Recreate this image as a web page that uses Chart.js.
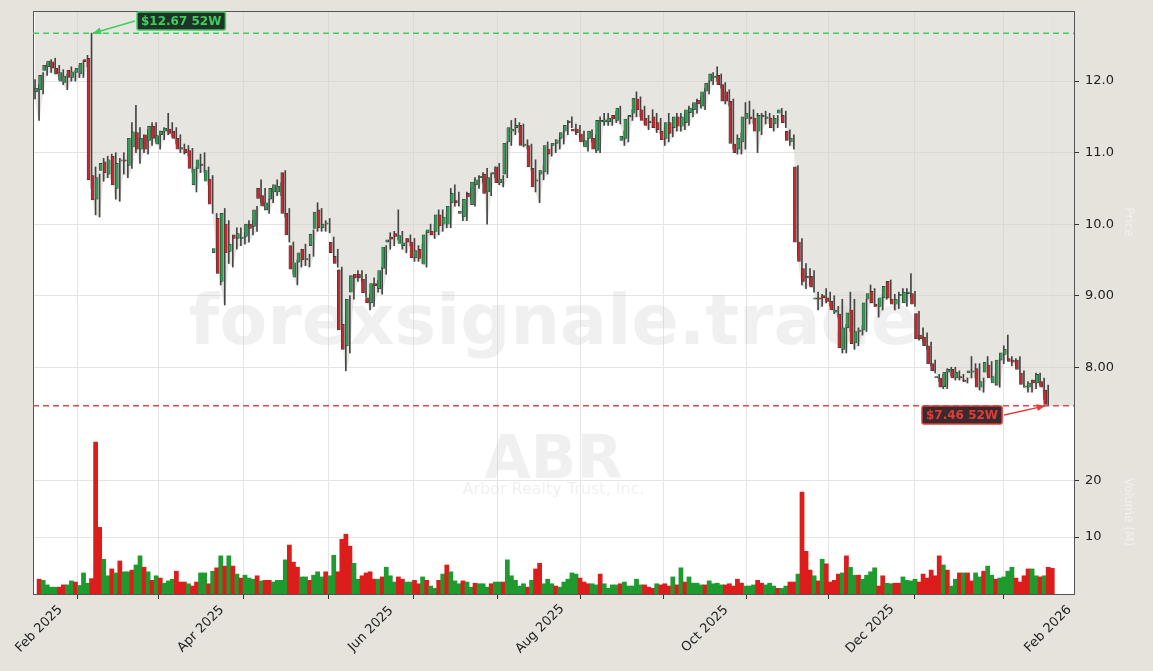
<!DOCTYPE html>
<html>
<head>
<meta charset="utf-8">
<script src="https://cdn.jsdelivr.net/npm/chart.js@4.4.1/dist/chart.umd.min.js"></script>
<style>
  html, body { margin: 0; padding: 0; background: #e6e3dd; }
  #wrap { width: 1153px; height: 671px; }
</style>
</head>
<body>
<div id="wrap"><canvas id="chart" width="1153" height="671"></canvas></div>
<script>
// ABR daily candles, Jan 31 2025 .. Feb 2026
const opens = [11.93,11.85,11.88,12.15,12.20,12.27,12.18,12.00,11.98,12.15,12.05,12.12,12.10,12.30,12.32,10.68,10.35,10.75,10.87,10.70,
10.95,10.50,10.88,10.88,10.82,11.08,11.28,11.05,11.25,11.17,11.37,11.12,11.25,11.30,11.33,11.30,11.20,11.05,11.05,11.03,
10.55,10.78,10.82,10.60,10.63,9.60,10.08,9.20,10.00,9.62,9.85,9.80,9.80,9.83,10.00,9.97,10.50,10.40,10.20,10.35,
10.45,10.45,10.72,10.15,9.70,9.26,9.47,9.65,9.50,9.70,9.94,10.20,9.95,10.00,9.75,9.55,9.36,8.60,8.30,9.05,
9.30,9.30,9.23,8.97,8.90,9.17,9.10,9.38,9.75,9.82,9.87,9.73,9.70,9.80,9.75,9.53,9.65,9.44,9.88,9.90,
9.90,10.13,10.00,10.00,10.30,10.33,10.15,10.10,10.43,10.27,10.55,10.65,10.70,10.45,10.70,10.80,10.58,10.70,11.15,11.30,
11.35,11.38,11.10,11.10,10.78,10.60,10.70,10.73,11.05,11.10,11.13,11.20,11.30,11.42,11.33,11.33,11.26,11.08,11.20,11.20,
11.03,11.43,11.43,11.43,11.52,11.45,11.17,11.20,11.50,11.55,11.75,11.60,11.48,11.42,11.50,11.42,11.30,11.20,11.42,11.35,
11.50,11.37,11.42,11.56,11.60,11.73,11.65,11.86,12.00,12.05,12.08,11.95,11.85,11.72,11.12,11.05,11.15,11.48,11.50,11.48,
11.30,11.50,11.48,11.48,11.40,11.55,11.52,11.30,11.15,10.80,9.75,9.38,9.25,9.27,8.95,8.97,9.00,8.97,8.92,8.77,
8.74,8.25,8.55,8.80,8.34,8.50,8.52,8.95,9.06,8.88,8.85,8.97,9.20,8.95,8.88,9.00,8.90,9.03,9.03,8.75,
8.45,8.42,8.30,8.05,7.85,7.85,7.73,7.93,7.97,7.85,7.85,7.82,7.92,7.93,7.98,7.72,7.93,8.03,7.78,7.75,
8.10,8.18,8.12,8.10,8.10,7.92,7.72,7.72,7.82,7.78,7.80,7.68];
const highs = [12.02,11.95,12.12,12.25,12.30,12.32,12.22,12.16,12.10,12.20,12.15,12.22,12.28,12.36,12.67,10.80,10.70,10.92,10.95,10.98,
11.00,10.92,11.00,10.95,11.42,11.66,11.35,11.25,11.32,11.42,11.42,11.30,11.35,11.55,11.42,11.35,11.25,11.12,11.10,11.06,
10.80,10.98,11.00,10.80,10.68,10.15,10.15,10.22,10.05,9.80,9.95,9.95,9.88,10.05,10.05,10.25,10.62,10.50,10.35,10.55,
10.62,10.58,10.75,10.22,9.75,9.50,9.65,9.72,9.58,9.92,10.30,10.22,10.05,10.08,9.82,9.65,9.40,8.80,9.00,9.30,
9.35,9.35,9.30,9.02,9.25,9.22,9.40,9.70,9.88,9.90,10.20,9.90,9.80,9.85,9.80,9.70,9.72,9.90,10.00,10.00,
10.20,10.20,10.15,10.50,10.55,10.45,10.25,10.45,10.50,10.65,10.68,10.72,10.78,10.70,10.80,10.85,10.68,11.15,11.45,11.48,
11.42,11.40,11.18,11.12,10.90,10.75,10.82,11.15,11.12,11.18,11.25,11.30,11.45,11.50,11.40,11.38,11.30,11.20,11.32,11.25,
11.50,11.55,11.55,11.52,11.58,11.65,11.30,11.50,11.60,11.85,11.78,11.65,11.52,11.60,11.55,11.48,11.35,11.55,11.48,11.55,
11.55,11.55,11.65,11.68,11.75,11.78,11.90,12.00,12.12,12.20,12.10,11.98,11.88,11.75,11.25,11.28,11.70,11.72,11.60,11.55,
11.55,11.58,11.55,11.52,11.52,11.62,11.58,11.32,11.25,10.82,9.80,9.45,9.38,9.35,9.05,9.02,9.10,9.05,9.00,8.85,
8.95,8.60,9.05,8.95,8.55,8.58,8.95,9.15,9.10,8.95,9.02,9.20,9.22,9.02,9.05,9.10,9.10,9.31,9.06,8.78,
8.55,8.48,8.35,8.10,7.90,7.90,7.98,8.00,8.00,7.95,7.90,7.85,8.15,8.05,8.05,7.85,8.15,8.08,7.90,8.12,
8.30,8.45,8.15,8.12,8.15,7.95,7.80,7.82,7.92,7.92,7.85,7.75];
const lows = [11.75,11.45,11.82,12.08,12.12,12.10,12.02,11.95,11.88,12.00,12.00,12.05,12.05,12.20,10.50,10.13,10.10,10.60,10.65,10.62,
10.35,10.32,10.70,10.65,10.78,11.00,10.85,11.00,10.98,11.10,11.15,11.05,11.18,11.25,11.22,11.12,11.00,10.98,10.95,10.72,
10.45,10.72,10.72,10.55,10.15,9.50,9.15,8.87,9.45,9.40,9.65,9.70,9.72,9.75,9.85,9.90,10.30,10.20,10.15,10.30,
10.40,10.40,10.10,9.75,9.30,9.15,9.40,9.42,9.40,9.55,9.90,9.90,9.90,9.88,9.50,9.40,8.50,7.95,8.20,8.95,
9.20,9.20,8.98,8.80,8.85,9.05,9.02,9.30,9.65,9.70,9.78,9.65,9.60,9.70,9.48,9.48,9.45,9.40,9.85,9.80,
9.85,9.90,9.95,9.95,10.25,10.25,10.05,10.05,10.35,10.25,10.50,10.58,10.00,10.40,10.65,10.55,10.52,10.65,11.10,11.25,
11.28,11.08,11.05,10.75,10.45,10.30,10.62,10.70,10.95,11.00,11.05,11.12,11.25,11.35,11.25,11.20,11.10,11.02,11.15,11.00,
11.00,11.38,11.38,11.38,11.42,11.40,11.10,11.15,11.45,11.50,11.50,11.40,11.32,11.35,11.28,11.25,11.10,11.15,11.22,11.30,
11.30,11.32,11.38,11.50,11.55,11.62,11.60,11.82,11.95,12.00,11.90,11.68,11.65,11.05,10.98,10.98,11.05,11.40,11.40,11.00,
11.25,11.40,11.40,11.30,11.35,11.50,11.35,11.10,11.05,9.55,9.15,9.10,9.15,9.05,8.80,8.85,8.90,8.85,8.75,8.70,
8.20,8.20,8.50,8.25,8.30,8.45,8.50,8.90,8.85,8.70,8.80,8.95,8.92,8.80,8.82,8.92,8.85,8.98,8.85,8.38,
8.35,8.25,8.02,7.92,7.80,7.70,7.70,7.88,7.82,7.82,7.80,7.78,7.85,7.85,7.68,7.65,7.90,7.80,7.75,7.72,
8.05,8.12,8.02,8.02,7.92,7.72,7.65,7.65,7.70,7.75,7.55,7.46];
const closes = [11.85,11.90,12.08,12.22,12.28,12.18,12.10,12.12,12.07,12.05,12.13,12.18,12.25,12.27,10.62,10.34,10.65,10.85,10.72,10.90,
10.55,10.85,10.90,10.87,11.20,11.29,11.05,11.20,11.05,11.37,11.20,11.24,11.30,11.34,11.27,11.20,11.05,11.05,11.00,10.78,
10.77,10.90,10.80,10.75,10.28,9.66,9.31,10.15,9.60,9.72,9.80,9.87,9.80,10.00,9.94,10.20,10.36,10.25,10.30,10.50,
10.55,10.53,10.15,9.85,9.37,9.46,9.60,9.50,9.50,9.86,10.17,9.95,10.00,10.00,9.60,9.45,8.52,8.25,8.95,9.28,
9.25,9.25,9.04,8.90,9.17,9.14,9.35,9.68,9.78,9.79,9.83,9.84,9.74,9.75,9.53,9.63,9.52,9.85,9.92,9.85,
10.13,9.98,10.10,10.25,10.43,10.30,10.18,10.35,10.38,10.59,10.62,10.65,10.43,10.65,10.72,10.58,10.63,11.13,11.35,11.33,
11.38,11.10,11.10,10.80,10.52,10.60,10.75,11.10,10.98,11.13,11.18,11.28,11.38,11.42,11.30,11.28,11.15,11.17,11.30,11.05,
11.45,11.43,11.46,11.48,11.47,11.62,11.23,11.47,11.50,11.76,11.60,11.45,11.38,11.42,11.35,11.32,11.18,11.42,11.27,11.50,
11.37,11.50,11.60,11.62,11.70,11.68,11.85,11.97,12.10,12.05,11.95,11.72,11.72,11.13,11.00,11.20,11.50,11.55,11.47,11.30,
11.52,11.50,11.48,11.35,11.48,11.60,11.42,11.17,11.20,9.75,9.48,9.20,9.25,9.12,8.97,8.95,8.97,8.92,8.80,8.80,
8.27,8.55,8.76,8.33,8.50,8.50,8.90,9.03,8.90,8.85,8.97,9.13,8.97,8.88,8.95,9.00,9.05,9.03,8.88,8.40,
8.40,8.30,8.05,7.95,7.85,7.72,7.93,7.97,7.85,7.93,7.83,7.80,7.95,7.93,7.72,7.80,8.07,7.85,7.87,8.10,
8.20,8.25,8.08,8.07,7.97,7.76,7.72,7.78,7.78,7.90,7.72,7.48];
// volume in millions
const volumes = [2.6,2.4,1.6,1.2,1.2,1.2,1.6,1.6,2.3,2.1,1.5,3.7,1.9,2.7,26.7,11.7,6.1,3.2,4.4,3.7,
5.8,3.9,3.9,4.2,5.1,6.7,4.7,3.9,2.4,3.2,2.8,1.9,2.3,2.6,4.0,2.1,2.1,1.8,1.4,2.1,
3.7,3.7,1.8,4.0,4.6,6.7,4.9,6.7,4.9,3.5,2.8,3.3,2.8,2.6,3.2,2.3,2.4,2.4,2.1,2.4,
2.4,6.0,8.6,5.6,4.7,3.0,3.0,2.4,3.3,3.9,3.0,3.9,3.2,6.8,3.9,9.6,10.5,8.4,5.4,2.6,
3.2,3.7,3.9,2.6,2.6,3.0,4.7,3.2,2.1,3.0,2.6,2.1,2.1,2.4,1.8,3.0,2.4,1.4,1.0,2.4,
3.5,5.1,3.9,2.3,1.8,2.3,2.1,1.2,1.9,1.8,1.8,1.2,1.8,2.1,2.1,2.1,6.0,3.2,2.4,1.4,
1.8,1.2,2.4,4.4,5.4,1.8,2.6,1.8,1.4,1.2,2.1,2.6,3.7,3.5,2.8,2.1,1.8,1.8,1.6,3.5,
1.8,1.0,1.6,1.6,1.8,2.1,1.4,1.4,2.6,1.6,1.6,1.2,1.0,1.8,1.6,1.8,1.4,3.0,1.6,4.6,
2.1,3.0,1.9,1.9,1.6,1.6,2.3,1.8,1.9,1.6,1.6,1.8,1.4,2.6,1.9,1.4,1.4,1.6,2.4,1.9,
1.6,1.9,1.4,1.0,1.0,1.4,2.1,2.1,3.5,17.9,7.5,4.2,3.2,2.3,6.1,5.3,2.1,2.4,3.5,3.7,
6.7,4.7,3.3,3.3,2.6,3.3,3.9,4.6,1.4,3.2,1.9,1.8,1.9,1.9,3.0,2.4,2.3,2.6,2.1,3.5,
2.8,4.2,3.2,6.7,5.1,4.2,1.4,2.6,3.7,3.7,3.7,2.3,3.7,3.0,4.0,4.9,3.3,2.6,2.8,3.0,
4.0,4.7,2.8,2.1,3.2,4.4,4.4,3.2,3.0,3.2,4.7,4.5];
// month starts (candle index) and the labels shown every second month
const monthPos = [1.0, 20.1, 41.1, 62.2, 83.2, 104.1, 125.1, 145.2, 166.0, 186.3, 206.9, 228.7, 251];
const monthLabels = ['Feb 2025','','Apr 2025','','Jun 2025','','Aug 2025','','Oct 2025','','Dec 2025','','Feb 2026'];
const priceTicks = [8, 9, 10, 11, 12];
const volumeTicks = [10, 20];
const high52 = 12.67, low52 = 7.46;

const yMin = 4.83, yMax = 12.98;       // price axis range
const vMax = 102.4;                      // volume axis range
const volToPrice = v => yMin + v / vMax * (yMax - yMin);

const up = i => closes[i] >= opens[i];
const idx = closes.map((_, i) => i);

const GREEN = '#2f9e55', RED = '#c8282c';
const SHADE = 'rgba(212,207,197,0.55)';

const bgPlugin = {
  id: 'bg',
  beforeDraw(chart) {
    const { ctx, chartArea: a } = chart;
    ctx.save();
    ctx.fillStyle = '#e6e3dd';
    ctx.fillRect(0, 0, chart.width, chart.height);
    ctx.fillStyle = '#ffffff';
    ctx.fillRect(a.left, a.top, a.right - a.left, a.bottom - a.top);
    ctx.restore();
  },
  beforeDatasetsDraw(chart) {
    const { ctx, chartArea: a, scales } = chart;
    ctx.save();
    const xl = scales.x.getPixelForValue(closes.length - 1);
    ctx.fillStyle = SHADE;
    ctx.fillRect(xl, a.top, a.right - xl, scales.y.getPixelForValue(lows[lows.length - 1]) - a.top);
    ctx.textAlign = 'center';
    ctx.textBaseline = 'middle';
    ctx.fillStyle = 'rgba(200,200,200,0.28)';
    ctx.font = 'bold 70px "DejaVu Sans"';
    ctx.fillText('forexsignale.trade', (a.left + a.right) / 2, 326);
    ctx.font = 'bold 60px "DejaVu Sans"';
    ctx.fillText('ABR', (a.left + a.right) / 2, 462);
    ctx.font = '16px "DejaVu Sans"';
    ctx.fillText('Arbor Realty Trust, Inc.', (a.left + a.right) / 2, 490);
    ctx.restore();
  },
  afterDraw(chart) {
    const { ctx, chartArea: a, scales } = chart;
    const x = scales.x, y = scales.y;
    ctx.save();
    ctx.strokeStyle = '#555';
    ctx.lineWidth = 1;
    ctx.strokeRect(a.left + 0.5, a.top + 0.5, a.right - a.left, a.bottom - a.top);

    // month labels, rotated and centred on their tick
    ctx.fillStyle = '#222';
    ctx.font = '13px "DejaVu Sans"';
    ctx.textAlign = 'center';
    ctx.textBaseline = 'middle';
    monthPos.forEach((m, i) => {
      if (!monthLabels[i]) return;
      ctx.save();
      ctx.translate(x.getPixelForValue(m), a.bottom + 35);
      ctx.rotate(-Math.PI / 4);
      ctx.fillText(monthLabels[i], 0, 0);
      ctx.restore();
    });

    // 52-week lines
    ctx.setLineDash([6, 4]);
    ctx.lineWidth = 1.5;
    ctx.strokeStyle = '#3fcf62';
    let yh = y.getPixelForValue(high52);
    ctx.beginPath(); ctx.moveTo(a.left, yh); ctx.lineTo(a.right, yh); ctx.stroke();
    ctx.strokeStyle = '#e04a4a';
    let yl = y.getPixelForValue(low52);
    ctx.beginPath(); ctx.moveTo(a.left, yl); ctx.lineTo(a.right, yl); ctx.stroke();
    ctx.setLineDash([]);

    const label = (text, bx, by, fg, bg, tx, ty) => {
      ctx.font = 'bold 12px "DejaVu Sans"';
      const w = ctx.measureText(text).width + 8;
      ctx.fillStyle = bg;
      ctx.strokeStyle = fg;
      ctx.lineWidth = 1.5;
      ctx.beginPath();
      ctx.roundRect(bx, by, w, 18, 2);
      ctx.fill(); ctx.stroke();
      ctx.fillStyle = fg;
      ctx.textBaseline = 'middle';
      ctx.textAlign = 'left';
      ctx.fillText(text, bx + 4, by + 9.5);
      const sx = tx < bx ? bx - 2 : bx + w + 2, sy = by + 9;
      ctx.strokeStyle = fg;
      ctx.lineWidth = 1.5;
      ctx.beginPath(); ctx.moveTo(sx, sy); ctx.lineTo(tx, ty); ctx.stroke();
      const ang = Math.atan2(ty - sy, tx - sx);
      ctx.fillStyle = fg;
      ctx.beginPath();
      ctx.moveTo(tx, ty);
      ctx.lineTo(tx - 9 * Math.cos(ang - 0.4), ty - 9 * Math.sin(ang - 0.4));
      ctx.lineTo(tx - 9 * Math.cos(ang + 0.4), ty - 9 * Math.sin(ang + 0.4));
      ctx.closePath(); ctx.fill();
    };
    label('$12.67 52W', 137, 12, '#3ccf60', '#1f3326', x.getPixelForValue(14.3), yh);
    label('$7.46 52W', 922, 406, '#e03c3c', '#3a2a2c', x.getPixelForValue(251) - 3, yl);

    ctx.fillStyle = 'rgba(255,255,255,0.45)';
    ctx.font = '12px "DejaVu Sans"';
    ctx.textAlign = 'center';
    ctx.translate(1128, 222); ctx.rotate(Math.PI / 2); ctx.fillText('Price', 0, 0);
    ctx.rotate(-Math.PI / 2); ctx.translate(0, 290); ctx.rotate(Math.PI / 2); ctx.fillText('Volume (M)', 0, 0);
    ctx.restore();
  }
};

new Chart(document.getElementById('chart'), {
  type: 'bar',
  data: {
    datasets: [
      {
        type: 'line',
        data: idx.map(i => ({ x: i, y: lows[i] })),
        borderWidth: 0,
        pointRadius: 0,
        tension: 0.3,
        fill: 'end',
        backgroundColor: SHADE,
        order: 10
      },
      {
        data: idx.map(i => ({ x: i, y: [yMin, volToPrice(volumes[i])] })),
        backgroundColor: idx.map(i => up(i) ? '#1e9a2e' : '#dd1c1c'),
        barThickness: 4.1,
        order: 5
      },
      {
        data: idx.map(i => ({ x: i, y: [lows[i], highs[i]] })),
        backgroundColor: '#444',
        barThickness: 1,
        order: 3
      },
      {
        data: idx.map(i => ({ x: i, y: [opens[i], Math.abs(closes[i] - opens[i]) < 0.02 ? opens[i] + 0.02 : closes[i]] })),
        backgroundColor: idx.map(i => up(i) ? GREEN : RED),
        borderColor: '#333',
        borderWidth: 0.6,
        borderSkipped: false,
        barThickness: 3,
        order: 1
      }
    ]
  },
  options: {
    responsive: false,
    animation: false,
    events: [],
    layout: { padding: { left: 33, top: 11, right: 0, bottom: 0 } },
    plugins: { legend: { display: false }, tooltip: { enabled: false } },
    scales: {
      x: {
        type: 'linear',
        min: -0.5,
        max: 257.4,
        offset: false,
        afterBuildTicks: s => { s.ticks = monthPos.map(v => ({ value: v })); },
        afterFit: s => { s.height = 77; s.paddingLeft = 0; s.paddingRight = 0; },
        ticks: {
          callback: () => '',
          maxRotation: 0, minRotation: 0,
          font: { size: 1 }
        },
        grid: { color: '#e4e4e4', tickColor: '#333', tickLength: 5 },
        border: { display: false }
      },
      y: {
        position: 'right',
        min: yMin,
        max: yMax,
        afterBuildTicks: s => {
          s.ticks = volumeTicks.map(v => ({ value: volToPrice(v), label: String(v) }))
            .concat(priceTicks.map(v => ({ value: v, label: v >= 10 ? v.toFixed(1) : v.toFixed(2) })));
        },
        afterFit: s => { s.width = 79; s.paddingTop = 0; s.paddingBottom = 0; },
        ticks: {
          callback: function (v, i, t) { return t[i].label; },
          color: '#222',
          font: { family: 'DejaVu Sans', size: 13 },
          padding: 6
        },
        grid: { color: '#e4e4e4', tickColor: '#333', tickLength: 5 },
        border: { display: false }
      }
    }
  },
  plugins: [bgPlugin]
});
</script>
</body>
</html>
